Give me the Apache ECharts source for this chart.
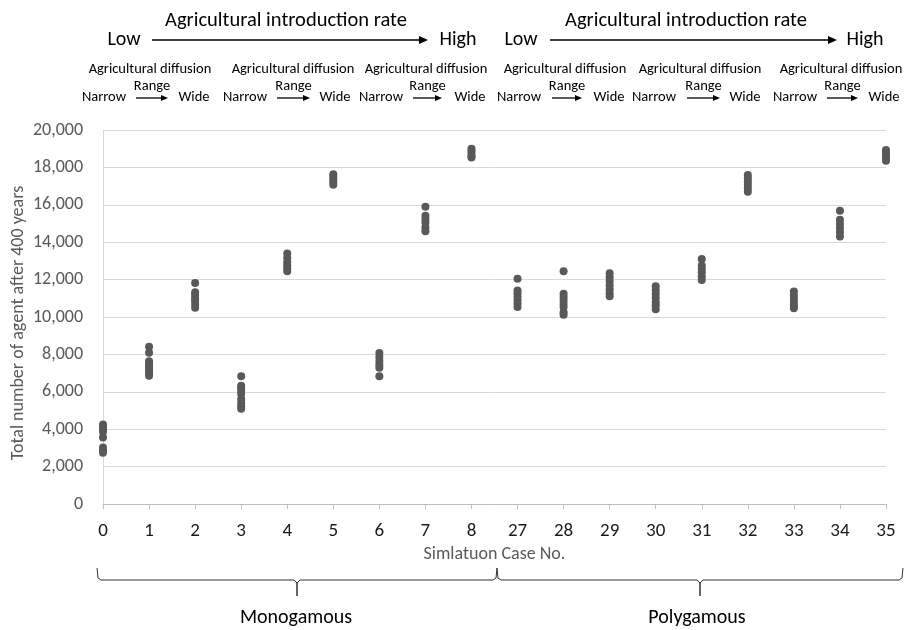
<!DOCTYPE html>
<html>
<head>
<meta charset="utf-8">
<script src="https://cdn.jsdelivr.net/npm/echarts@6/dist/echarts.min.js"></script>
<style>html,body{margin:0;padding:0;background:#fff;}#c{width:906px;height:630px;}</style>
</head>
<body>
<div id="c"></div>
<script>
const caseLabels = ['0','1','2','3','4','5','6','7','8','27','28','29','30','31','32','33','34','35'];
const yTicks = [0, 2000, 4000, 6000, 8000, 10000, 12000, 14000, 16000, 18000, 20000];

const case0  = [4250, 4120, 3980, 3860, 3560, 3020, 2880, 2740];
const case1  = [8410, 8090, 7640, 7500, 7360, 7240, 7110, 6970, 6860];
const case2  = [11820, 11330, 11180, 11000, 10880, 10700, 10490];
const case3  = [6830, 6330, 6200, 6050, 5900, 5620, 5400, 5230, 5090];
const case4  = [13400, 13160, 12930, 12750, 12610, 12450];
const case5  = [17640, 17500, 17350, 17210, 17070];
const case6  = [8070, 7860, 7650, 7450, 7290, 6830];
const case7  = [15890, 15420, 15240, 15060, 14790, 14580];
const case8  = [19000, 18880, 18740, 18600, 18530];
const case27 = [12040, 11420, 11270, 11100, 10920, 10740, 10530];
const case28 = [12450, 11240, 11060, 10880, 10700, 10530, 10260, 10120];
const case29 = [12340, 12130, 11910, 11700, 11490, 11270, 11110];
const case30 = [11650, 11450, 11240, 11020, 10790, 10620, 10420];
const case31 = [13100, 12750, 12570, 12390, 12180, 11980];
const case32 = [17600, 17420, 17250, 17070, 16890, 16700];
const case33 = [11360, 11150, 10970, 10790, 10620, 10470];
const case34 = [15680, 15200, 14970, 14760, 14530, 14310];
const case35 = [18930, 18790, 18650, 18490, 18350];

const caseValues = [case0, case1, case2, case3, case4, case5, case6, case7, case8,
  case27, case28, case29, case30, case31, case32, case33, case34, case35];

const points = [];
caseValues.forEach((arr, i) => arr.forEach(v => points.push([caseLabels[i], v])));

const FONT = 'Carlito, Lato, "Liberation Sans", sans-serif';
const TXT = '#000';

function txt(x, y, s, size, align) {
  return {type: 'text', x: x, y: y, style: {text: s, fontSize: size, fontFamily: FONT, fill: TXT, textAlign: align || 'center', textVerticalAlign: 'middle'}};
}
function arrow(x1, x2, y, head) {
  return [
    {type: 'line', shape: {x1: x1, y1: y, x2: x2 - head, y2: y}, style: {stroke: '#000', lineWidth: 1.3}},
    {type: 'polygon', shape: {points: [[x2 - head - 1, y - head / 2], [x2, y], [x2 - head - 1, y + head / 2]]}, style: {fill: '#000'}}
  ];
}

const g = [];
// top-level headers
g.push(txt(286, 21, 'Agricultural introduction rate', 20.5));
g.push(txt(124, 40, 'Low', 20));
g.push(...arrow(152, 428, 40, 8));
g.push(txt(458, 40, 'High', 20));
g.push(txt(686, 21, 'Agricultural introduction rate', 20.5));
g.push(txt(521, 40, 'Low', 20));
g.push(...arrow(550, 837, 40, 8));
g.push(txt(865, 40, 'High', 20));
// sub headers
const subs = [
  {c: 150, n: 104, a1: 136, a2: 168, w: 194},
  {c: 293, n: 245, a1: 277, a2: 310, w: 335},
  {c: 426, n: 381, a1: 413, a2: 442, w: 470},
  {c: 565, n: 519, a1: 552, a2: 582, w: 609},
  {c: 700, n: 654, a1: 687, a2: 720, w: 745},
  {c: 841, n: 795, a1: 827, a2: 858, w: 884}
];
subs.forEach(s => {
  g.push(txt(s.c, 69, 'Agricultural diffusion', 14.5));
  g.push(txt((s.a1 + s.a2) / 2, 86, 'Range', 14.5));
  g.push(txt(s.n, 97, 'Narrow', 14.5));
  g.push(...arrow(s.a1, s.a2, 98, 6));
  g.push(txt(s.w, 97, 'Wide', 14.5));
});
// braces
const braceStyle = {stroke: '#333', lineWidth: 1, fill: null};
function brace(x1, x2) {
  const m = (x1 + x2) / 2;
  return {type: 'polyline', shape: {points: [[x1, 568], [x1 + 1, 578], [x1 + 4, 580], [m - 3, 580], [m, 583], [m, 596], [m, 583], [m + 3, 580], [x2 - 4, 580], [x2 - 1, 578], [x2, 568]]}, style: braceStyle};
}
g.push(brace(97, 497));
g.push(brace(497, 903));
g.push(txt(296, 618, 'Monogamous', 20));
g.push(txt(697, 618, 'Polygamous', 20));

const chart = echarts.init(document.getElementById('c'));
chart.setOption({
  backgroundColor: '#fff',
  animation: false,
  grid: {left: 103, right: 20, top: 130, bottom: 126, containLabel: false, outerBoundsMode: 'none'},
  xAxis: {
    type: 'category',
    data: caseLabels,
    boundaryGap: false,
    name: 'Simlatuon Case No.',
    nameLocation: 'middle',
    nameGap: 41,
    nameMoveOverlap: false,
    nameTextStyle: {fontSize: 18, color: '#595959', fontFamily: FONT},
    axisLine: {lineStyle: {color: '#bfbfbf'}},
    axisTick: {show: true, length: 5, lineStyle: {color: '#bfbfbf'}},
    axisLabel: {fontSize: 19, color: '#1a1a1a', margin: 18, fontFamily: FONT},
    splitLine: {show: false}
  },
  yAxis: {
    type: 'value',
    min: yTicks[0],
    max: yTicks[yTicks.length - 1],
    interval: yTicks[1] - yTicks[0],
    name: 'Total number of agent after 400 years',
    nameLocation: 'middle',
    nameGap: 76,
    nameMoveOverlap: false,
    nameTextStyle: {fontSize: 18, color: '#595959', fontFamily: FONT, padding: [0, 12, 0, 0]},
    axisLine: {show: true, lineStyle: {color: '#d9d9d9'}},
    axisTick: {show: false},
    axisLabel: {fontSize: 18, color: '#595959', margin: 20, fontFamily: FONT,
      formatter: v => v.toLocaleString('en-US')},
    splitLine: {lineStyle: {color: '#d9d9d9'}}
  },
  series: [{
    type: 'scatter',
    data: points,
    symbol: 'circle',
    symbolSize: 8,
    itemStyle: {color: '#595959', opacity: 1}
  }],
  graphic: g
});
</script>
</body>
</html>
